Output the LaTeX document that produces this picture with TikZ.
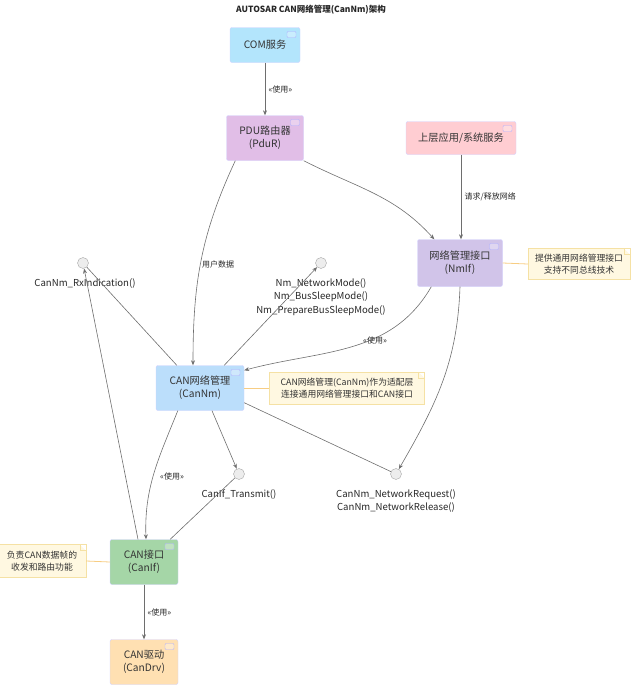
\documentclass[tikz,border=0pt]{standalone}
\usepackage{fontspec}
\setmainfont{Noto Sans CJK SC}
\usetikzlibrary{arrows.meta}
\definecolor{comfill}{HTML}{B3E5FC}
\definecolor{pdurfill}{HTML}{E1BEE7}
\definecolor{appfill}{HTML}{FFCDD2}
\definecolor{nmiffill}{HTML}{D1C4E9}
\definecolor{cannmfill}{HTML}{BBDEFB}
\definecolor{caniffill}{HTML}{A5D6A7}
\definecolor{candrvfill}{HTML}{FFE0B2}
\definecolor{notefill}{HTML}{FFF8E1}
\definecolor{noteline}{HTML}{F5E1A4}
\definecolor{linkgray}{HTML}{6E6E6E}
\tikzset{
  modbox/.style={rectangle, rounded corners=2pt, fill=#1, draw=blue!18, align=center,
    font=\fontsize{10.2}{13}\selectfont, text=black!80,
    path picture={\draw[blue!30, fill=#1!70!white, rounded corners=1pt]
      ([xshift=-13pt,yshift=-4pt]path picture bounding box.north east) rectangle ++(9pt,-6pt);}},
  notebox/.style={rectangle, fill=notefill, draw=noteline, align=center, inner sep=3pt,
    font=\fontsize{8.8}{12.5}\selectfont, text=black!80,
    path picture={\fill[white] (path picture bounding box.north east) -- ++(-6pt,0) -- ++(6pt,-6pt) -- cycle;
      \draw[noteline] ([xshift=-6pt]path picture bounding box.north east) -- ++(0,-6pt) -- ++(6pt,0);}},
  iface/.style={circle, minimum size=11pt, inner sep=0pt, fill=black!7, draw=black!35},
  ifacelbl/.style={align=center, font=\fontsize{9.6}{13.5}\selectfont, text=black!85},
  lbl/.style={font=\fontsize{8}{10}\selectfont, text=black!85},
  link/.style={draw=linkgray, line width=0.6pt},
  arr/.style={link, -{Stealth[length=5pt,width=4pt]}},
  notelink/.style={draw=noteline!80!orange, line width=0.8pt}
}
\begin{document}
\begin{tikzpicture}[x=1pt,y=1pt]
\useasboundingbox (0,0) rectangle (640,-688);
\node[font=\bfseries\fontsize{8.5}{10}\selectfont, text=black!85] (title) at (311,-10) {AUTOSAR CAN网络管理(CanNm)架构};

\node[modbox=comfill, minimum width=70pt, minimum height=35pt] (com) at (265,-45) {COM服务};
\node[modbox=pdurfill, minimum width=77pt, minimum height=45pt] (pdur) at (265,-138) {PDU路由器\\(PduR)};
\node[modbox=appfill, minimum width=110pt, minimum height=33pt] (app) at (461,-138) {上层应用/系统服务};
\node[modbox=nmiffill, minimum width=85pt, minimum height=47pt] (nmif) at (460,-263) {网络管理接口\\(NmIf)};
\node[modbox=cannmfill, minimum width=88pt, minimum height=45pt] (cannm) at (200,-388) {CAN网络管理\\(CanNm)};
\node[modbox=caniffill, minimum width=68pt, minimum height=45pt] (canif) at (144,-562) {CAN接口\\(CanIf)};
\node[modbox=candrvfill, minimum width=68pt, minimum height=45pt] (candrv) at (144,-662) {CAN驱动\\(CanDrv)};

\node[notebox, minimum width=155pt, minimum height=32pt] (cannmnote) at (347,-388) {CAN网络管理(CanNm)作为适配层\\连接通用网络管理接口和CAN接口};
\node[notebox, minimum width=102pt, minimum height=31pt] (nmifnote) at (579,-264) {提供通用网络管理接口\\支持不同总线技术};
\node[notebox, minimum width=88pt, minimum height=33pt] (canifnote) at (42,-561) {负责CAN数据帧的\\收发和路由功能};

\node[iface] (rx) at (83,-263) {};
\node[iface] (nmapi) at (321,-263) {};
\node[iface] (tx) at (239,-474) {};
\node[iface] (nreq) at (396,-474) {};
\node[ifacelbl, anchor=north] (rxlbl) at (85,-275) {CanNm\_RxIndication()};
\node[ifacelbl, anchor=north] (nmapilbl) at (321,-275) {Nm\_NetworkMode()\\Nm\_BusSleepMode()\\Nm\_PrepareBusSleepMode()};
\node[ifacelbl, anchor=north] (txlbl) at (239,-486) {CanIf\_Transmit()};
\node[ifacelbl, anchor=north] (nreqlbl) at (396,-486) {CanNm\_NetworkRequest()\\CanNm\_NetworkRelease()};

\draw[arr] (com) -- node[lbl, right] (uselbl1) {«使用»} (pdur);
\draw[arr] ([xshift=9pt]pdur.south west) to[out=-115,in=90] ([xshift=-7pt]cannm.north);
\node[lbl] (datalbl) at (218,-264) {用户数据};
\draw[arr] (pdur.south east) to[out=-27,in=132] ([xshift=17pt]nmif.north west);
\draw[arr] (app.south) -- node[lbl, right] (reqlbl) {请求/释放网络} (app.south |- nmif.north);
\draw[arr] ([xshift=14pt]nmif.south west) to[out=-120,in=15] ([yshift=-5pt]cannm.north east);
\node[lbl] (uselbl2) at (375,-340) {«使用»};
\draw[arr] (nmif.south) to[out=-92,in=60] (nreq);
\draw[link] ([yshift=8pt]cannm.south east) -- (nreq);
\draw[link] ([xshift=21pt]cannm.north west) -- (rx);
\draw[arr] ([xshift=-20pt]cannm.north east) -- (nmapi);
\draw[arr] ([xshift=12pt]cannm.south) -- (tx);
\draw[arr] ([xshift=22pt]cannm.south west) to[out=-112,in=92] ([xshift=2pt]canif.north);
\node[lbl] (uselbl3) at (172,-476) {«使用»};
\draw[arr] ([xshift=-6pt]canif.north) -- (rx);
\draw[link] ([xshift=-8pt]canif.north east) -- (tx);
\draw[arr] (canif) -- node[lbl, right] (uselbl4) {«使用»} (candrv);

\draw[notelink] (cannm.east) -- (cannmnote.west);
\draw[notelink] (nmif.east) -- (nmifnote.west);
\draw[notelink] (canif.west) -- (canifnote.east);
\end{tikzpicture}
\end{document}
